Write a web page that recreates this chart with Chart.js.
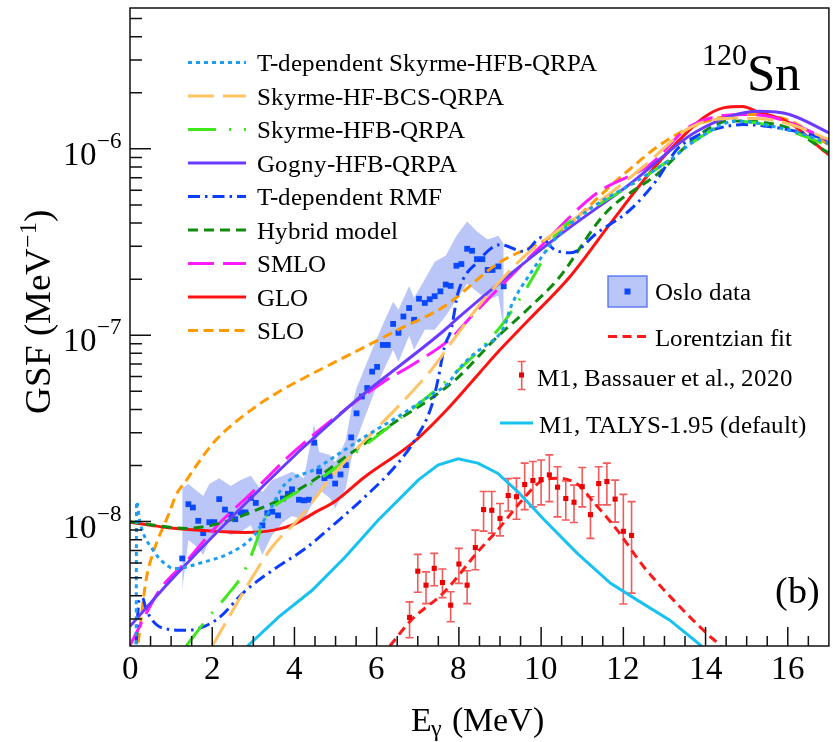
<!DOCTYPE html>
<html>
<head>
<meta charset="utf-8">
<script src="https://cdn.jsdelivr.net/npm/chart.js@4.4.1/dist/chart.umd.min.js"></script>
<style>
  @font-face {
    font-family: 'PlotSerif';
    src: local('Liberation Serif'), local('LiberationSerif'), local('LiberationSerif-Regular'), local('Times New Roman'), local('DejaVu Serif');
  }
  html, body { margin: 0; padding: 0; background: #fff; }
  canvas { display: block; }
  #fontWarm { position: absolute; left: -9999px; font-family: 'PlotSerif', 'Liberation Serif', serif; }
</style>
</head>
<body>
<span id="fontWarm">GSF 10 MeV</span>
<canvas id="gsfChart" width="833" height="742"></canvas>
<script>
// gamma strength function of 120Sn: models, Oslo data, M1 strength

// T-dependent Skyrme-HFB-QRPA
const tdSkyrmeE = [0.15, 0.16, 0.24, 0.56, 0.96, 1.1, 1.77, 2.42, 3.0, 3.4, 3.75, 4.5, 5.0, 5.72, 6.52, 7.33, 7.74, 8.0, 8.39, 8.62, 9.1, 9.27, 9.75, 10.4, 11.28, 12.25, 13.14, 13.78, 14.75, 15.64, 16.93, 17];
const tdSkyrmeGSF = [2.2e-9, 1.28e-8, 9.97e-9, 7.03e-9, 5.71e-9, 5.6e-9, 6.05e-9, 6.76e-9, 8.34e-9, 1.15e-8, 1.57e-8, 1.91e-8, 2.25e-8, 2.86e-8, 3.66e-8, 4.78e-8, 5.53e-8, 6.6e-8, 8.02e-8, 8.69e-8, 1.11e-7, 1.43e-7, 2.16e-7, 3.39e-7, 4.92e-7, 6.56e-7, 8.76e-7, 1.12e-6, 1.41e-6, 1.32e-6, 1.08e-6, 1.06e-6];

// Skyrme-HF-BCS-QRPA
const hfbcsE = [2, 2.98, 3.46, 4.15, 4.9, 5.72, 6.52, 7.33, 7.9, 8.54, 9.59, 10.32, 11.69, 12.5, 13.62, 14.65, 15.5, 16.3, 17];
const hfbcsGSF = [2.15e-9, 5.05e-9, 7.33e-9, 1.06e-8, 1.74e-8, 2.74e-8, 4.14e-8, 6.52e-8, 9.68e-8, 1.49e-7, 2.65e-7, 3.54e-7, 5.8e-7, 8.07e-7, 1.3e-6, 1.46e-6, 1.44e-6, 1.3e-6, 1.12e-6];

// Skyrme-HFB-QRPA
const hfbE = [1.37, 1.85, 2.33, 2.73, 2.9, 3.06, 3.26, 3.5, 3.87, 4.43, 5.0, 5.72, 6.52, 7.49, 8.62, 9.1, 9.91, 10.32, 11.28, 12.25, 13.14, 13.78, 14.75, 15.64, 16.93, 17];
const hfbGSF = [2.15e-9, 2.96e-9, 3.94e-9, 5.16e-9, 6.21e-9, 7.64e-9, 1.02e-8, 1.2e-8, 1.36e-8, 1.6e-8, 1.94e-8, 2.57e-8, 3.51e-8, 5.21e-8, 8.87e-8, 1.18e-7, 2.25e-7, 3.38e-7, 4.84e-7, 6.5e-7, 8.76e-7, 1.12e-6, 1.41e-6, 1.32e-6, 1.05e-6, 1.03e-6];

// Gogny-HFB-QRPA
const gognyE = [0, 1.04, 4.1, 4.51, 5.56, 7.66, 7.98, 10.4, 12.17, 13.78, 15.3, 16.04, 17];
const gognyGSF = [2.74e-9, 4.97e-9, 2.37e-8, 2.86e-8, 4.59e-8, 1.07e-7, 1.24e-7, 3.38e-7, 6.5e-7, 1.24e-6, 1.59e-6, 1.53e-6, 1.22e-6];

// T-dependent RMF
const rmfE = [0.15, 0.22, 0.3, 0.4, 0.8, 1.37, 2.09, 2.82, 3.54, 4.28, 5.0, 5.72, 6.52, 6.93, 7.33, 7.49, 7.65, 7.81, 7.98, 8.46, 9.0, 9.59, 10.0, 10.32, 10.72, 11.36, 12.17, 12.82, 13.3, 13.78, 14.19, 14.91, 15.72, 16.93, 17];
const rmfGSF = [2.2e-9, 3.79e-9, 3.9e-9, 3.34e-9, 2.68e-9, 2.61e-9, 2.96e-9, 4.28e-9, 5.62e-9, 7.21e-9, 9.82e-9, 1.36e-8, 2.06e-8, 2.74e-8, 4.14e-8, 5.76e-8, 8.69e-8, 1.07e-7, 1.69e-7, 2.48e-7, 3.06e-7, 2.81e-7, 3.34e-7, 2.88e-7, 2.77e-7, 3.54e-7, 4.72e-7, 6.84e-7, 9.91e-7, 1.17e-6, 1.27e-6, 1.35e-6, 1.3e-6, 1.12e-6, 1.1e-6];

// Hybrid model
const hybridE = [0, 0.88, 1.37, 2.17, 2.98, 3.79, 4.59, 5.07, 5.72, 6.52, 7.33, 8.0, 8.86, 9.75, 10.4, 11.57, 12.9, 13.78, 14.58, 16.0, 16.93, 17];
const hybridGSF = [9.97e-9, 9.38e-9, 9.19e-9, 9.78e-9, 1.13e-8, 1.36e-8, 1.74e-8, 2.09e-8, 2.63e-8, 3.51e-8, 4.59e-8, 6.0e-8, 9.44e-8, 1.43e-7, 1.99e-7, 4.53e-7, 7.55e-7, 1.16e-6, 1.41e-6, 1.3e-6, 9.7e-7, 9.5e-7];

// SMLO
const smloE = [0, 0.72, 1.36, 2.17, 2.98, 3.94, 4.91, 6.12, 6.93, 7.81, 8.3, 9.91, 11.36, 12.65, 13.62, 15.07, 16.93, 17];
const smloGSF = [2.17e-9, 4.29e-9, 6.08e-9, 9.78e-9, 1.44e-8, 2.32e-8, 3.51e-8, 5.53e-8, 7.08e-8, 9.64e-8, 1.26e-7, 2.88e-7, 5.8e-7, 8.24e-7, 1.32e-6, 1.53e-6, 1.12e-6, 1.09e-6];

// GLO
const gloE = [0, 0.5, 1, 2, 2.8, 3.5, 4, 4.5, 5, 5.7, 6.9, 7.7, 8.5, 9, 9.7, 10.7, 11.7, 12.65, 13.3, 13.95, 14.43, 14.9, 15.24, 16.04, 16.93, 17];
const gloGSF = [9.93e-9, 9.57e-9, 9.23e-9, 8.89e-9, 8.75e-9, 9.0e-9, 9.7e-9, 1.12e-8, 1.29e-8, 1.73e-8, 2.67e-8, 3.97e-8, 6.28e-8, 8.35e-8, 1.21e-7, 2.06e-7, 4.02e-7, 7.46e-7, 1.08e-6, 1.47e-6, 1.66e-6, 1.69e-6, 1.59e-6, 1.38e-6, 9.55e-7, 9.3e-7];

// SLO
const sloE = [0.2, 0.39, 0.56, 0.96, 1.12, 1.36, 1.6, 2.09, 3.06, 3.62, 4.1, 4.9, 5.72, 6.52, 7.65, 8.94, 10.4, 12, 13, 14, 15, 16, 17];
const sloGSF = [2.24e-9, 4.85e-9, 6.78e-9, 1.12e-8, 1.39e-8, 1.65e-8, 1.98e-8, 2.74e-8, 4.14e-8, 4.97e-8, 5.69e-8, 7.02e-8, 8.67e-8, 1.07e-7, 1.43e-7, 2.42e-7, 3.54e-7, 7.28e-7, 1.09e-6, 1.4e-6, 1.53e-6, 1.43e-6, 1.05e-6];

// M1, TALYS-1.95 (default)
const talysE = [2.86, 3.62, 4.43, 5.24, 6.04, 7.01, 7.49, 7.98, 8.46, 8.94, 9.43, 10.08, 10.88, 11.69, 12.34, 13.13, 13.9];
const talysGSF = [2.15e-9, 3.08e-9, 4.28e-9, 6.47e-9, 1.02e-8, 1.67e-8, 2.01e-8, 2.17e-8, 2.06e-8, 1.82e-8, 1.45e-8, 1.02e-8, 6.75e-9, 4.66e-9, 3.79e-9, 2.96e-9, 2.15e-9];

// Lorentzian fit to the M1 strength
const lorentzE = [6.32, 6.84, 7.65, 8.46, 8.94, 9.51, 9.99, 10.4, 10.88, 11.28, 11.85, 12.5, 13.22, 14.03, 14.3, 14.5];
const lorentzGSF = [2.15e-9, 2.96e-9, 4.2e-9, 6.89e-9, 9.0e-9, 1.28e-8, 1.64e-8, 1.71e-8, 1.59e-8, 1.27e-8, 9.0e-9, 5.71e-9, 3.79e-9, 2.51e-9, 2.22e-9, 2.0e-9];

// M1, Bassauer et al., 2020
const m1E = [6.8, 7.0, 7.2, 7.4, 7.6, 7.8, 8.0, 8.2, 8.4, 8.6, 8.8, 9.0, 9.2, 9.4, 9.6, 9.8, 10.0, 10.2, 10.4, 10.6, 10.8, 11.0, 11.2, 11.4, 11.6, 11.8, 12.0, 12.2];
const m1GSF = [3.06e-9, 5.42e-9, 4.56e-9, 5.61e-9, 4.71e-9, 3.56e-9, 5.92e-9, 4.56e-9, 7.26e-9, 1.16e-8, 1.15e-8, 1.04e-8, 1.38e-8, 1.36e-8, 1.58e-8, 1.66e-8, 1.68e-8, 1.78e-8, 1.53e-8, 1.33e-8, 1.27e-8, 1.54e-8, 1.09e-8, 1.6e-8, 1.64e-8, 1.32e-8, 8.87e-9, 8.43e-9];
const m1Hi = [3.71e-9, 6.67e-9, 5.37e-9, 6.75e-9, 5.57e-9, 4.2e-9, 7.18e-9, 5.45e-9, 9.0e-9, 1.45e-8, 1.45e-8, 1.25e-8, 1.7e-8, 1.71e-8, 2.06e-8, 2.1e-8, 2.14e-8, 2.28e-8, 1.97e-8, 1.65e-8, 1.57e-8, 1.95e-8, 1.36e-8, 1.97e-8, 2.06e-8, 1.67e-8, 1.4e-8, 1.28e-8];
const m1Lo = [2.38e-9, 4.18e-9, 3.63e-9, 4.53e-9, 3.91e-9, 2.9e-9, 4.66e-9, 3.63e-9, 5.52e-9, 8.89e-9, 8.67e-9, 8.38e-9, 1.14e-8, 1.03e-8, 1.16e-8, 1.2e-8, 1.23e-8, 1.28e-8, 1.06e-8, 1.02e-8, 9.88e-9, 1.2e-8, 8.13e-9, 1.23e-8, 1.23e-8, 9.93e-9, 3.61e-9, 4.13e-9];

// Oslo data points
const osloE = [1.27, 1.42, 1.53, 1.66, 1.78, 1.93, 2.05, 2.17, 2.31, 2.45, 2.56, 2.69, 2.81, 2.94, 3.06, 3.22, 3.34, 3.46, 3.60, 3.72, 3.84, 3.94, 4.11, 4.23, 4.35, 4.48, 4.60, 4.73, 4.86, 4.99, 5.12, 5.25, 5.38, 5.51, 5.64, 5.77, 5.89, 6.01, 6.15, 6.27, 6.40, 6.53, 6.65, 6.79, 6.91, 7.03, 7.17, 7.29, 7.41, 7.55, 7.68, 7.80, 7.94, 8.06, 8.20, 8.32, 8.44, 8.57, 8.70, 8.82, 8.96, 9.09];
const osloGSF = [6.34e-9, 1.24e-8, 1.19e-8, 1.01e-8, 8.67e-9, 9.93e-9, 9.93e-9, 1.32e-8, 1.16e-8, 1.09e-8, 1.03e-8, 1.12e-8, 1.12e-8, 1.34e-8, 1.26e-8, 9.55e-9, 1.11e-8, 1.13e-8, 1.08e-8, 1.33e-8, 1.41e-8, 1.49e-8, 1.31e-8, 1.3e-8, 1.31e-8, 2.65e-8, 1.86e-8, 1.71e-8, 1.76e-8, 1.6e-8, 1.79e-8, 2.01e-8, 2.83e-8, 3.81e-8, 4.69e-8, 5.21e-8, 6.38e-8, 6.76e-8, 8.87e-8, 8.87e-8, 1.15e-7, 1.03e-7, 1.26e-7, 1.4e-7, 1.21e-7, 1.57e-7, 1.49e-7, 1.56e-7, 1.62e-7, 1.72e-7, 1.87e-7, 1.84e-7, 2.36e-7, 2.41e-7, 2.91e-7, 2.84e-7, 2.56e-7, 2.56e-7, 2.24e-7, 2.24e-7, 2.34e-7, 1.83e-7];

// Oslo uncertainty band (upper / lower edge)
const bandE = [1.27, 1.42, 1.66, 1.78, 1.93, 2.17, 2.45, 2.69, 2.94, 3.22, 3.46, 3.72, 3.94, 4.23, 4.48, 4.60, 4.86, 4.99, 5.12, 5.25, 5.38, 5.51, 5.64, 5.89, 6.15, 6.40, 6.53, 6.79, 6.91, 7.17, 7.41, 7.68, 7.94, 8.20, 8.44, 8.70, 8.96, 9.09];
const bandHi = [1.51e-8, 1.59e-8, 1.44e-8, 1.37e-8, 1.59e-8, 1.71e-8, 1.55e-8, 1.67e-8, 1.76e-8, 1.44e-8, 1.67e-8, 1.76e-8, 1.85e-8, 1.71e-8, 3.34e-8, 2.36e-8, 2.28e-8, 2.09e-8, 2.36e-8, 2.74e-8, 3.97e-8, 5.21e-8, 6.12e-8, 8.35e-8, 1.14e-7, 1.51e-7, 1.37e-7, 1.84e-7, 1.59e-7, 1.99e-7, 2.48e-7, 2.67e-7, 3.42e-7, 4.07e-7, 3.6e-7, 3.26e-7, 3.42e-7, 3.1e-7];
const bandLo = [4.29e-9, 7.96e-9, 7.21e-9, 6.61e-9, 7.96e-9, 9.23e-9, 8.47e-9, 8.79e-9, 9.57e-9, 6.61e-9, 8.47e-9, 9.93e-9, 1.07e-8, 1.02e-8, 1.31e-8, 1.48e-8, 1.34e-8, 1.18e-8, 1.34e-8, 1.51e-8, 2.14e-8, 2.74e-8, 3.3e-8, 4.61e-8, 6.35e-8, 8.35e-8, 7.19e-8, 9.93e-8, 8.35e-8, 1.07e-7, 1.07e-7, 1.27e-7, 1.55e-7, 1.89e-7, 1.71e-7, 1.55e-7, 1.63e-7, 1.07e-7];

// axis labels
const xTickLabels = [0, 2, 4, 6, 8, 10, 12, 14, 16];
const yTickDecades = [-8, -7, -6];

const SERIF = "PlotSerif, 'Liberation Serif', 'DejaVu Serif', serif";
const OSLO_BLUE = '#0a48ff';
const BAND_BLUE = '#bac6f7';
const M1_RED = '#ec0000';

function pts(xs, ys) {
    return xs.map((x, i) => ({ x: x, y: ys[i] }));
}

const models = [
    { label: 'T-dependent Skyrme-HFB-QRPA', e: tdSkyrmeE, g: tdSkyrmeGSF, color: '#1c9ff2', dash: [4, 4] },
    { label: 'Skyrme-HF-BCS-QRPA', e: hfbcsE, g: hfbcsGSF, color: '#ffc264', dash: [26, 9] },
    { label: 'Skyrme-HFB-QRPA', e: hfbE, g: hfbGSF, color: '#3fe81a', dash: [28, 13, 2, 13] },
    { label: 'Gogny-HFB-QRPA', e: gognyE, g: gognyGSF, color: '#6b3cff', dash: [] },
    { label: 'T-dependent RMF', e: rmfE, g: rmfGSF, color: '#0c3cff', dash: [12, 5, 2.5, 5] },
    { label: 'Hybrid model', e: hybridE, g: hybridGSF, color: '#0e8c0e', dash: [10, 6] },
    { label: 'SMLO', e: smloE, g: smloGSF, color: '#ff1aff', dash: [26, 9] },
    { label: 'GLO', e: gloE, g: gloGSF, color: '#ff1212', dash: [] },
    { label: 'SLO', e: sloE, g: sloGSF, color: '#ff9a00', dash: [10, 5.5] }
];

const datasets = [];

// band: upper edge filled down to the lower edge
datasets.push({
    data: pts(bandE, bandHi), showLine: true, borderWidth: 0, pointRadius: 0,
    backgroundColor: BAND_BLUE, fill: '+1', tension: 0, order: 50
});
datasets.push({
    data: pts(bandE, bandLo), showLine: true, borderWidth: 0, pointRadius: 0,
    fill: false, tension: 0, order: 50
});
datasets.push({
    data: pts(osloE, osloGSF), showLine: false, pointStyle: 'rect', pointRadius: 4.1,
    backgroundColor: OSLO_BLUE, borderWidth: 0, order: 40
});

models.forEach(m => {
    datasets.push({
        label: m.label, data: pts(m.e, m.g), showLine: true, pointRadius: 0,
        borderColor: m.color, borderWidth: 3, borderDash: m.dash, borderCapStyle: 'butt',
        cubicInterpolationMode: 'monotone', fill: false, order: 20
    });
});

datasets.push({
    data: pts(talysE, talysGSF), showLine: true, pointRadius: 0,
    borderColor: '#18c2f0', borderWidth: 3, tension: 0, fill: false, order: 20
});
datasets.push({
    data: pts(lorentzE, lorentzGSF), showLine: true, pointRadius: 0,
    borderColor: '#ff1a1a', borderWidth: 3, borderDash: [9, 5.5], borderCapStyle: 'butt',
    cubicInterpolationMode: 'monotone', fill: false, order: 15
});
datasets.push({
    data: pts(m1E, m1GSF), showLine: false, pointStyle: 'rect', pointRadius: 3.6,
    backgroundColor: M1_RED, borderWidth: 0, order: 5
});

function drawErrorBar(ctx, x, yTop, yBot) {
    ctx.strokeStyle = 'rgba(238, 20, 20, 0.7)';
    ctx.lineWidth = 1.6;
    ctx.beginPath();
    ctx.moveTo(x, yTop); ctx.lineTo(x, yBot);
    ctx.moveTo(x - 4, yTop); ctx.lineTo(x + 4, yTop);
    ctx.moveTo(x - 4, yBot); ctx.lineTo(x + 4, yBot);
    ctx.stroke();
}

function lineSample(ctx, x0, x1, y, color, dash, width) {
    ctx.save();
    ctx.strokeStyle = color;
    ctx.lineWidth = width;
    ctx.setLineDash(dash);
    ctx.lineCap = 'butt';
    ctx.beginPath();
    ctx.moveTo(x0, y); ctx.lineTo(x1, y);
    ctx.stroke();
    ctx.restore();
}

const errorBars = {
    id: 'errorBars',
    beforeDatasetsDraw(chart) {
        const { ctx, chartArea: a, scales: { x, y } } = chart;
        ctx.save();
        ctx.beginPath();
        ctx.rect(a.left, a.top, a.right - a.left, a.bottom - a.top);
        ctx.clip();
        m1E.forEach((e, i) => {
            drawErrorBar(ctx, x.getPixelForValue(e), y.getPixelForValue(m1Hi[i]), y.getPixelForValue(m1Lo[i]));
        });
        ctx.restore();
    }
};

const rootFrame = {
    id: 'rootFrame',
    afterDraw(chart) {
        const { ctx, chartArea: a, scales: { x, y } } = chart;
        ctx.save();

        // frame
        ctx.strokeStyle = '#111';
        ctx.lineWidth = 1.5;
        ctx.strokeRect(a.left, a.top, a.right - a.left, a.bottom - a.top);

        // x ticks every 0.5 MeV, pointing inward
        ctx.beginPath();
        for (let k = 1; k < 34; k++) {
            const px = x.getPixelForValue(k / 2);
            const len = (k % 4 === 0) ? 19 : 10;
            ctx.moveTo(px, a.bottom); ctx.lineTo(px, a.bottom - len);
        }
        // y ticks: decades and 2..9 in between
        for (let d = -9; d <= -6; d++) {
            for (let m = 1; m <= 9; m++) {
                const v = m * Math.pow(10, d);
                if (v < y.min || v > y.max) continue;
                const py = y.getPixelForValue(v);
                const len = m === 1 ? 21 : 12;
                ctx.moveTo(a.left, py); ctx.lineTo(a.left + len, py);
            }
        }
        ctx.stroke();

        // tick labels
        ctx.fillStyle = '#000';
        ctx.textAlign = 'center';
        ctx.textBaseline = 'alphabetic';
        ctx.font = '33px ' + SERIF;
        xTickLabels.forEach(v => ctx.fillText(String(v), x.getPixelForValue(v), 679));

        ctx.textAlign = 'left';
        yTickDecades.forEach(d => {
            const py = y.getPixelForValue(Math.pow(10, d));
            const sup = '\u2212' + (-d);
            ctx.font = '23px ' + SERIF;
            const w2 = ctx.measureText(sup).width;
            ctx.font = '33px ' + SERIF;
            const w1 = ctx.measureText('10').width;
            ctx.fillText('10', 122 - w2 - w1, py + 16);
            ctx.font = '23px ' + SERIF;
            ctx.fillText(sup, 122 - w2, py - 1);
        });

        // x title: E_gamma (MeV)
        ctx.font = '34px ' + SERIF;
        ctx.fillText('E', 411, 731);
        ctx.font = '24px ' + SERIF;
        ctx.fillText('\u03b3', 431, 736);
        ctx.font = '34px ' + SERIF;
        ctx.fillText('(MeV)', 452, 731);

        // y title: GSF (MeV^-1), rotated
        ctx.save();
        ctx.translate(50, 312);
        ctx.rotate(-Math.PI / 2);
        ctx.font = '37px ' + SERIF;
        const t1 = 'GSF (MeV', t3 = ')';
        const w1 = ctx.measureText(t1).width, w3 = ctx.measureText(t3).width;
        ctx.font = '24px ' + SERIF;
        const t2 = '\u22121';
        const w2 = ctx.measureText(t2).width;
        const sx = -(w1 + w2 + w3) / 2;
        ctx.font = '37px ' + SERIF;
        ctx.fillText(t1, sx, 0);
        ctx.font = '24px ' + SERIF;
        ctx.fillText(t2, sx + w1, -14);
        ctx.font = '37px ' + SERIF;
        ctx.fillText(t3, sx + w1 + w2, 0);
        ctx.restore();

        // nucleus and panel tag
        ctx.font = '30px ' + SERIF;
        ctx.fillText('120', 702, 65);
        ctx.font = '51px ' + SERIF;
        ctx.fillText('Sn', 747, 90);
        ctx.font = '38px ' + SERIF;
        ctx.fillText('(b)', 775, 603);

        // model legend
        ctx.font = '25px ' + SERIF;
        models.forEach((m, i) => {
            const ry = 62.5 + i * 33.5;
            lineSample(ctx, 188, 246, ry, m.color, m.dash, 3);
            ctx.fillStyle = '#000';
            ctx.fillText(m.label, 256.5, ry + 8.5);
        });

        // data legend
        ctx.fillStyle = BAND_BLUE;
        ctx.fillRect(608, 276, 39, 31);
        ctx.strokeStyle = '#4f6ff2';
        ctx.lineWidth = 1.3;
        ctx.strokeRect(608, 276, 39, 31);
        ctx.fillStyle = OSLO_BLUE;
        ctx.fillRect(624.5, 288.5, 6, 6);
        ctx.fillStyle = '#000';
        ctx.fillText('Oslo data', 655, 300);

        lineSample(ctx, 608, 646, 336.5, '#ff1a1a', [9, 5.5], 3);
        ctx.fillStyle = '#000';
        ctx.fillText('Lorentzian fit', 655, 345.5);

        drawErrorBar(ctx, 521.7, 361.5, 389.5);
        ctx.fillStyle = M1_RED;
        ctx.fillRect(519, 372.5, 5, 5);
        ctx.fillStyle = '#000';
        ctx.fillText('M1, Bassauer et al., 2020', 537, 386);

        lineSample(ctx, 500, 533, 423, '#18c2f0', [], 3);
        ctx.fillStyle = '#000';
        ctx.fillText('M1, TALYS-1.95 (default)', 539, 432.5);

        ctx.restore();
    }
};

function buildChart() {
    new Chart(document.getElementById('gsfChart'), {
        type: 'scatter',
        data: { datasets: datasets },
        options: {
            responsive: false,
            animation: false,
            events: [],
            layout: { padding: { left: 130, top: 8, right: 1, bottom: 96 } },
            scales: {
                x: { type: 'linear', min: 0, max: 17, display: false },
                y: { type: 'logarithmic', min: 2.15e-9, max: 5.7e-6, display: false }
            },
            plugins: {
                legend: { display: false },
                tooltip: { enabled: false }
            }
        },
        plugins: [errorBars, rootFrame]
    });
}

// make sure the serif face is ready before the canvas text is drawn
document.fonts.load('33px PlotSerif').then(buildChart, buildChart);
</script>
</body>
</html>
